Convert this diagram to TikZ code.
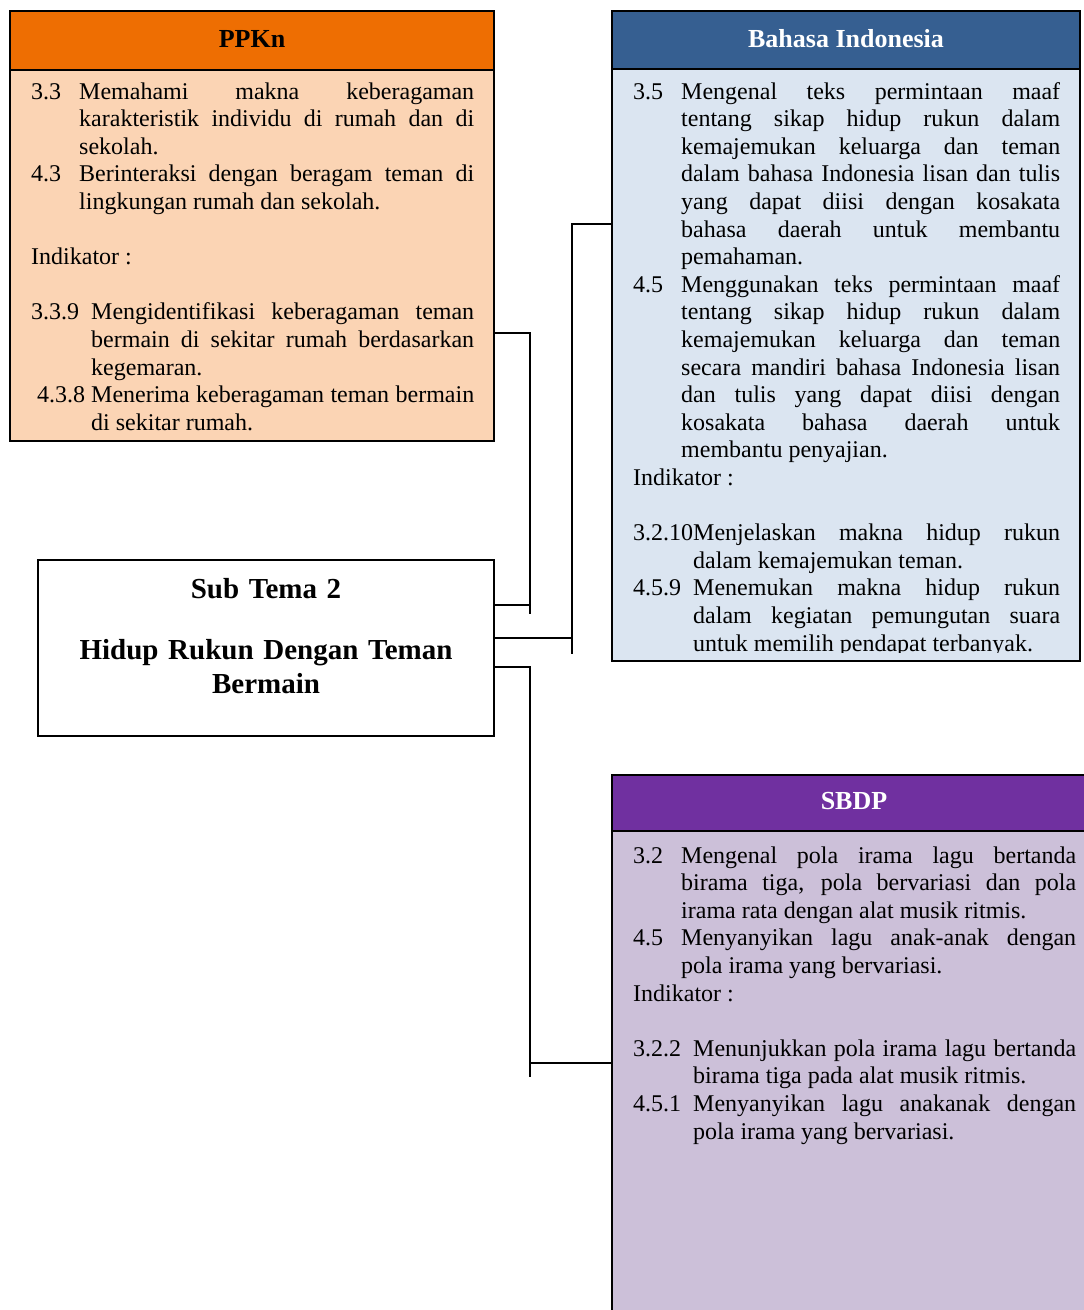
\documentclass[tikz,border=0pt]{standalone}
\usepackage{fontspec}
\setmainfont{Liberation Serif}
\usetikzlibrary{positioning}
\definecolor{ppknhead}{RGB}{238,110,2}
\definecolor{ppknbody}{HTML}{FBD4B4}
\definecolor{bindhead}{HTML}{365F91}
\definecolor{bindbody}{HTML}{DBE5F1}
\definecolor{sbdphead}{HTML}{7030A0}
\definecolor{sbdpbody}{HTML}{CCC0D9}
% one KD / indikator item with hanging label
\newcommand{\kd}[3]{\hangindent=#1\hangafter=1\noindent\makebox[#1][l]{#2}#3\par}
\newcommand{\blankline}{\vspace{\baselineskip}}
\tolerance=10000 \hbadness=10000 \hyphenpenalty=10000 \exhyphenpenalty=10000 \relax
\begin{document}
\begin{tikzpicture}[x=1pt,y=-1pt,
    headbox/.style={draw=black, line width=1.8pt, outer sep=0pt, inner sep=0pt,
      text depth=4pt, font=\fontsize{26}{30}\selectfont\bfseries},
    bodybox/.style={draw=black, line width=1.8pt, outer sep=0pt, inner sep=0pt},
    kdtext/.style={inner sep=0pt, align=justify, anchor=base west,
      font=\fontsize{24}{27.6}\selectfont},
    link/.style={draw=black, line width=1.5pt}]
  \useasboundingbox (0,0) rectangle (1084,1310);
  \clip (0,0) rectangle (1084,1310);
  %%% PPKn
  \node[headbox, fill=ppknhead, minimum width=484pt, minimum height=59pt, anchor=north west] (ppknH) at (10,11) {PPKn};
  \node[bodybox, fill=ppknbody, minimum width=484pt, minimum height=371pt, below=0pt of ppknH] (ppknB) {};
  \node[kdtext, text width=443pt] (ppknT) at (31,99) {%
    \kd{48pt}{3.3}{Memahami makna keberagaman\linebreak karakteristik individu di rumah dan di\linebreak sekolah.}
    \kd{48pt}{4.3}{Berinteraksi dengan beragam teman di\linebreak lingkungan rumah dan sekolah.}
    \blankline
    Indikator :\par
    \blankline
    \kd{60pt}{3.3.9}{Mengidentifikasi keberagaman teman\linebreak bermain di sekitar rumah berdasarkan\linebreak kegemaran.}
    \kd{60pt}{\hspace{6pt}4.3.8}{Menerima keberagaman teman bermain\linebreak di sekitar rumah.}};
  %%% Bahasa Indonesia
  \node[headbox, fill=bindhead, text=white, minimum width=468pt, minimum height=58pt, anchor=north west] (bindH) at (612,11) {Bahasa Indonesia};
  \node[bodybox, fill=bindbody, minimum width=468pt, minimum height=592pt, below=0pt of bindH] (bindB) {};
  \begin{scope}
    \clip (612,69) rectangle (1080,652);
    \node[kdtext, text width=427pt] (bindT) at (633,99) {%
      \kd{48pt}{3.5}{Mengenal teks permintaan maaf\linebreak tentang sikap hidup rukun dalam\linebreak kemajemukan keluarga dan teman\linebreak dalam bahasa Indonesia lisan dan tulis\linebreak yang dapat diisi dengan kosakata\linebreak bahasa daerah untuk membantu\linebreak pemahaman.}
      \kd{48pt}{4.5}{Menggunakan teks permintaan maaf\linebreak tentang sikap hidup rukun dalam\linebreak kemajemukan keluarga dan teman\linebreak secara mandiri bahasa Indonesia lisan\linebreak dan tulis yang dapat diisi dengan\linebreak kosakata bahasa daerah untuk\linebreak membantu penyajian.}
      Indikator :\par
      \blankline
      \kd{60pt}{3.2.10}{Menjelaskan makna hidup rukun\linebreak dalam kemajemukan teman.}
      \kd{60pt}{4.5.9}{Menemukan makna hidup rukun\linebreak dalam kegiatan pemungutan suara\linebreak untuk memilih pendapat terbanyak.}};
  \end{scope}
  %%% SBDP
  \node[headbox, fill=sbdphead, text=white, minimum width=484pt, minimum height=56pt, anchor=north west] (sbdpH) at (612,775) {SBDP};
  \node[bodybox, fill=sbdpbody, minimum width=484pt, minimum height=600pt, below=0pt of sbdpH] (sbdpB) {};
  \node[kdtext, text width=443pt] (sbdpT) at (633,863) {%
    \kd{48pt}{3.2}{Mengenal pola irama lagu bertanda\linebreak birama tiga, pola bervariasi dan pola\linebreak irama rata dengan alat musik ritmis.}
    \kd{48pt}{4.5}{Menyanyikan lagu anak-anak dengan\linebreak pola irama yang bervariasi.}
    Indikator :\par
    \blankline
    \kd{60pt}{3.2.2}{Menunjukkan pola irama lagu bertanda\linebreak birama tiga pada alat musik ritmis.}
    \kd{60pt}{4.5.1}{Menyanyikan lagu anakanak dengan\linebreak pola irama yang bervariasi.}};
  %%% Sub Tema
  \node[bodybox, fill=white, minimum width=456pt, minimum height=176pt, anchor=north west] (sub) at (38,560) {};
  \node[inner sep=0pt, text width=456pt, align=center, anchor=base,
    font=\fontsize{29}{34}\selectfont\bfseries] (subT) at (266,598)
    {Sub Tema 2\\[27pt]Hidup Rukun Dengan Teman\\Bermain};
  %%% connectors
  \coordinate (ppknJ) at (530,333);
  \coordinate (ppknK) at (530,614);
  \coordinate (subA) at (530,605);
  \draw[link] (ppknB.east |- ppknJ) -- (ppknJ) -- (ppknK);
  \draw[link] (sub.east |- subA) -- (subA);
  \coordinate (bindJ) at (572,224);
  \coordinate (bindK) at (572,654);
  \coordinate (subB) at (572,638);
  \draw[link] (bindB.west |- bindJ) -- (bindJ) -- (bindK);
  \draw[link] (sub.east |- subB) -- (subB);
  \coordinate (sbdpJ) at (530,667);
  \coordinate (sbdpK) at (530,1077);
  \coordinate (sbdpL) at (530,1063);
  \draw[link] (sub.east |- sbdpJ) -- (sbdpJ) -- (sbdpK);
  \draw[link] (sbdpL) -- (sbdpB.west |- sbdpL);
\end{tikzpicture}
\end{document}
